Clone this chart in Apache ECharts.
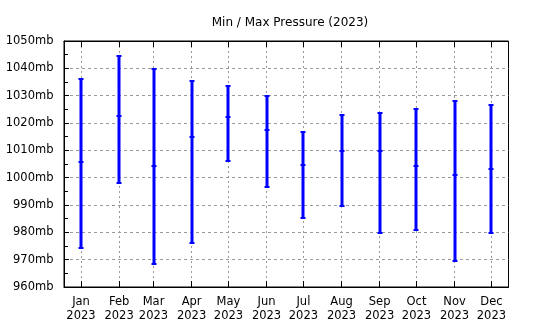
<!DOCTYPE html>
<html>
<head>
<meta charset="utf-8">
<script src="https://cdn.jsdelivr.net/npm/echarts@6/dist/echarts.min.js"></script>
<style>html,body{margin:0;padding:0;background:#fff}#c{width:540px;height:330px}</style>
</head>
<body>
<div id="c"></div>
<script>
var months = ['Jan','Feb','Mar','Apr','May','Jun','Jul','Aug','Sep','Oct','Nov','Dec'];
var dates = ['2023-01-15','2023-02-15','2023-03-15','2023-04-15','2023-05-15','2023-06-15','2023-07-15','2023-08-15','2023-09-15','2023-10-15','2023-11-15','2023-12-15'];
var maxP = [1036.1, 1044.6, 1039.9, 1035.5, 1033.6, 1030.0, 1016.8, 1022.9, 1023.8, 1025.1, 1028.2, 1026.7];
var avgP = [1005.7, 1022.6, 1004.2, 1015.0, 1022.3, 1017.6, 1004.7, 1009.9, 1009.9, 1004.4, 1001.1, 1003.3];
var minP = [974.4, 998.2, 968.4, 976.2, 1006.2, 996.7, 985.3, 989.7, 979.6, 980.8, 969.4, 979.6];
var yTicks = [960, 970, 980, 990, 1000, 1010, 1020, 1030, 1040, 1050];

var FONT = 'DejaVu Sans';
var DAY = 86400000;
var jan1 = Date.UTC(2023, 0, 1);
// day-of-year (from Jan 1) of each date
var days = dates.map(function (d) {
  var p = d.split('-');
  return (Date.UTC(+p[0], +p[1] - 1, +p[2]) - jan1) / DAY;
});
var axisMin = 0.16;
var axisMax = 361.9;
var data = days.map(function (t, i) { return [t, minP[i], avgP[i], maxP[i]]; });

function labelFor(v) {
  var i = -1;
  for (var k = 0; k < days.length; k++) { if (Math.abs(days[k] - v) < 0.5) { i = k; } }
  if (i < 0) return '';
  return months[i] + '\n' + dates[i].slice(0, 4);
}

var chart = echarts.init(document.getElementById('c'), null, {renderer: 'canvas'});
chart.setOption({
  animation: false,
  backgroundColor: '#fff',
  title: {
    text: 'Min / Max Pressure (2023)',
    left: 285, top: 12, textAlign: 'center',
    textStyle: {fontFamily: FONT, fontSize: 12, fontWeight: 'normal', color: '#000'}
  },
  grid: {left: 64, right: 31.5, top: 41, bottom: 43, show: true, borderColor: '#000', borderWidth: 1, backgroundColor: 'transparent'},
  xAxis: [{
    type: 'value', min: axisMin, max: axisMax, position: 'bottom',
    axisLine: {show: true, lineStyle: {color: '#000', width: 1}},
    axisTick: {show: true, inside: true, length: 6, customValues: days, lineStyle: {color: '#000'}},
    axisLabel: {
      customValues: days, margin: 8, fontFamily: FONT, fontSize: 11.5, color: '#000', lineHeight: 14,
      formatter: labelFor
    },
    splitLine: {show: true, lineStyle: {color: '#999', type: [2, 3], width: 1}}
  }, {
    type: 'value', min: axisMin, max: axisMax, position: 'top',
    axisLine: {show: true, lineStyle: {color: '#000'}},
    axisTick: {show: true, inside: true, length: 6, customValues: days, lineStyle: {color: '#000'}},
    axisLabel: {show: false, customValues: days},
    splitLine: {show: false}
  }],
  yAxis: {
    type: 'value', min: yTicks[0], max: yTicks[yTicks.length - 1], interval: 10,
    axisLine: {show: true, lineStyle: {color: '#000'}},
    axisTick: {show: true, inside: true, length: 5, lineStyle: {color: '#000'}},
    minorTick: {show: true, splitNumber: 2, length: 4, lineStyle: {color: '#000'}},
    axisLabel: {margin: 10.5, fontFamily: FONT, fontSize: 11.5, color: '#000', formatter: function (v) { return String(v) + 'mb'; }},
    splitLine: {show: true, lineStyle: {color: '#999', type: [3, 3], width: 1}}
  },
  series: [{
    type: 'custom',
    xAxisIndex: 0,
    data: data,
    encode: {x: 0, y: [1, 2, 3]},
    renderItem: function (params, api) {
      var x = api.value(0);
      var lo = api.coord([x, api.value(1)]);
      var mid = api.coord([x, api.value(2)]);
      var hi = api.coord([x, api.value(3)]);
      var cx = Math.round(lo[0]);
      var color = '#0000ff';
      function cap(y) {
        return {type: 'rect', shape: {x: cx - 2.5, y: Math.round(y) - 1, width: 5, height: 2}, style: {fill: color}};
      }
      return {
        type: 'group',
        children: [
          {type: 'line', shape: {x1: cx, y1: lo[1], x2: cx, y2: hi[1]}, style: {stroke: color, lineWidth: 3}},
          cap(lo[1]), cap(mid[1]), cap(hi[1])
        ]
      };
    }
  }]
});
</script>
</body>
</html>
